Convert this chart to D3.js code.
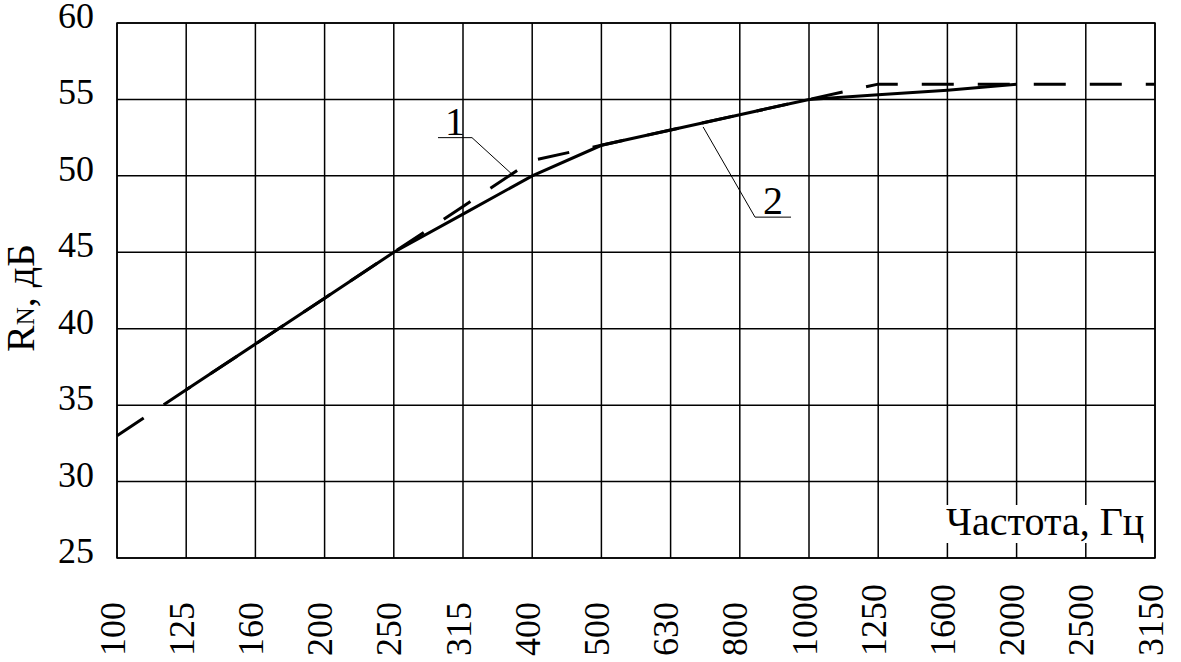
<!DOCTYPE html>
<meta charset="utf-8">
<style>
body { margin: 0; background: #fff; }
svg { font-family: "Liberation Serif", "Times New Roman", serif; }
.grid line { stroke: #000; stroke-width: 1.5; }
.tick-label { font-size: 36px; fill: #000; font-family: "Liberation Serif", serif; }
.curve { fill: none; stroke: #000; stroke-width: 3; }
.leader { fill: none; stroke: #000; stroke-width: 1; }
</style>
<svg width="1181" height="662"></svg>
<script src="https://cdn.jsdelivr.net/npm/d3@7"></script>
<script>

var svg = d3.select("svg");

// frequencies (Hz), one column each
var freqs = ["100", "125", "160", "200", "250", "315", "400", "500", "630",
             "800", "1000", "1250", "1600", "2000", "2500", "3150"];
var yTicks = [25, 30, 35, 40, 45, 50, 55, 60];

// curve 1 (dashed) and curve 2 (solid), dB
var curve1 = [33, 36, 39, 42, 45, 48, 51, 52, 53, 54, 55, 56, 56, 56, 56, 56];
var curve2 = [null, 36, 39, 42, 45, 47.5, 50, 52, 53, 54, 55, 55.3, 55.6, 56, null, null];

// callouts: anchor on the curve (index, value), elbow (index, value), label
var callouts = [
  {label: "1", ax: 5.71, ay: 50.1, ex: 5.13, ey: 52.5, side: -1},
  {label: "2", ax: 8.47, ay: 53.2, ex: 9.22, ey: 47.3, side: 1}
];

var pLeft = 117, pRight = 1155, pTop = 23, pBottom = 558;

var x = d3.scalePoint().domain(freqs).range([pLeft, pRight]);
var y = d3.scaleLinear().domain([25, 60]).range([pBottom, pTop]);
var xi = d3.scaleLinear().domain([0, freqs.length - 1]).range([pLeft, pRight]);

// grid
var grid = svg.append("g").attr("class", "grid");
grid.selectAll(".h").data(yTicks).enter().append("line")
    .attr("x1", pLeft).attr("x2", pRight)
    .attr("y1", function(d) { return y(d); })
    .attr("y2", function(d) { return y(d); });
grid.selectAll(".v").data(freqs).enter().append("line")
    .attr("x1", function(d) { return x(d); })
    .attr("x2", function(d) { return x(d); })
    .attr("y1", pTop).attr("y2", pBottom);

// y tick labels
svg.append("g").selectAll("text").data(yTicks).enter().append("text")
    .attr("class", "tick-label")
    .attr("text-anchor", "end")
    .attr("x", 94)
    .attr("y", function(d) { return y(d) + 5; })
    .text(function(d) { return d; });

// x tick labels, rotated, reading upward from the bottom
svg.append("g").selectAll("text").data(freqs).enter().append("text")
    .attr("class", "tick-label")
    .attr("text-anchor", "start")
    .attr("transform", function(d) { return "translate(" + (x(d) - 5) + ",656) rotate(-90)"; })
    .attr("dy", "0.35em")
    .text(function(d) { return d; });

// x axis title with white background
var xt = svg.append("g");
xt.append("rect")
    .attr("x", 943).attr("y", 505)
    .attr("width", pRight - 943 - 1).attr("height", 38)
    .attr("fill", "#fff");
xt.append("text")
    .attr("x", 946).attr("y", 535)
    .attr("font-size", "40px")
    .text("Частота, Гц");

// y axis title
var yt = svg.append("text")
    .attr("transform", "translate(34,298) rotate(-90)")
    .attr("text-anchor", "middle")
    .attr("font-size", "40px");
yt.append("tspan").text("R");
yt.append("tspan").attr("font-size", "25px").text("N");
yt.append("tspan").text(", дБ");

// curves
var line = d3.line()
    .defined(function(d) { return d != null; })
    .x(function(d, i) { return x(freqs[i]); })
    .y(function(d) { return y(d); });

svg.append("path").datum(curve2)
    .attr("class", "curve")
    .attr("d", line);

svg.append("path").datum(curve1)
    .attr("class", "curve")
    .attr("stroke-dasharray", "32,24")
    .attr("d", line);

// callouts
callouts.forEach(function(c) {
  var ex = xi(c.ex), ey = y(c.ey);
  var ux = c.side < 0 ? ex - 34 : ex + 36;
  svg.append("path").attr("class", "leader")
      .attr("d", "M" + xi(c.ax) + "," + y(c.ay) + "L" + ex + "," + ey + "L" + ux + "," + ey);
  svg.append("text")
      .attr("x", (ex + ux) / 2)
      .attr("y", ey - 3)
      .attr("text-anchor", "middle")
      .attr("font-size", "40px")
      .text(c.label);
});

// border on top
svg.append("rect")
    .attr("x", pLeft).attr("y", pTop)
    .attr("width", pRight - pLeft).attr("height", pBottom - pTop)
    .attr("fill", "none").attr("stroke", "#000").attr("stroke-width", 1.5);

</script>
